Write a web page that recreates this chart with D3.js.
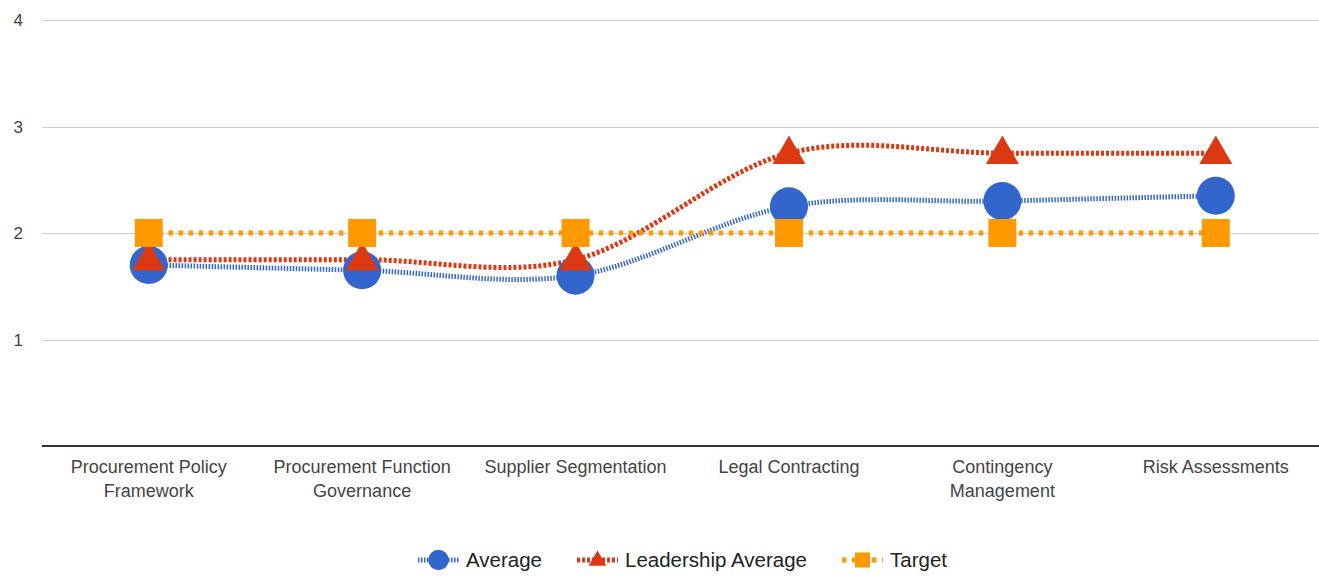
<!DOCTYPE html>
<html>
<head>
<meta charset="utf-8">
<script src="https://d3js.org/d3.v7.min.js"></script>
<style>
    body { margin: 0; background: #fff; }
    svg { display: block; font-family: "Liberation Sans", Arial, sans-serif; }
    .grid line { stroke: #cccccc; stroke-width: 1; }
    .tick-label { fill: #444; font-size: 17px; }
    .cat-label { fill: #444; font-size: 18px; }
    .legend-label { fill: #222; font-size: 20.5px; }
</style>
</head>
<body>
<div id="chart"></div>
<script>
    const categories = ["Procurement Policy Framework", "Procurement Function Governance",
        "Supplier Segmentation", "Legal Contracting", "Contingency Management", "Risk Assessments"];
    const average = [1.7, 1.65, 1.6, 2.25, 2.3, 2.35];
    const leadershipAverage = [1.75, 1.75, 1.75, 2.75, 2.75, 2.75];
    const target = [2, 2, 2, 2, 2, 2];
    const yTicks = [1, 2, 3, 4];

    const series = [
        { name: "Average", values: average, color: "#3366cc", dash: "1.5,1.5", shape: "circle" },
        { name: "Leadership Average", values: leadershipAverage, color: "#dc3912", dash: "3,2", shape: "triangle" },
        { name: "Target", values: target, color: "#ff9900", dash: "4.5,5.5", shape: "square" }
    ];

    const width = 1319, height = 585;
    const svg = d3.select("#chart").append("svg")
        .attr("width", width)
        .attr("height", height);

    const x = d3.scaleBand().domain(categories).range([42, 1322.5]);
    const y = d3.scaleLinear().domain([0, 4]).range([446, 20]);

    // gridlines
    svg.append("g").attr("class", "grid")
        .selectAll("line").data(yTicks).enter().append("line")
        .attr("x1", 42).attr("x2", width)
        .attr("y1", d => Math.round(y(d)) + 0.5).attr("y2", d => Math.round(y(d)) + 0.5);

    svg.append("g").selectAll("text").data(yTicks).enter().append("text")
        .attr("class", "tick-label")
        .attr("x", 23).attr("y", d => y(d) + 6)
        .attr("text-anchor", "end")
        .text(d => d);

    // baseline
    svg.append("line")
        .attr("x1", 42).attr("x2", width)
        .attr("y1", y(0)).attr("y2", y(0))
        .attr("stroke", "#333").attr("stroke-width", 2);

    // category labels, wrapped
    const cx = c => x(c) + x.bandwidth() / 2;
    const catText = svg.append("g").selectAll("text").data(categories).enter().append("text")
        .attr("class", "cat-label")
        .attr("text-anchor", "middle")
        .attr("x", d => cx(d))
        .attr("y", 473);

    catText.each(function (d) {
        const t = d3.select(this);
        const words = d.split(" ");
        let line = [];
        let lineNo = 0;
        let tspan = t.append("tspan").attr("x", cx(d)).attr("dy", 0);
        words.forEach(w => {
            line.push(w);
            tspan.text(line.join(" "));
            if (tspan.node().getComputedTextLength() > 195 && line.length > 1) {
                line.pop();
                tspan.text(line.join(" "));
                line = [w];
                lineNo++;
                tspan = t.append("tspan").attr("x", cx(d)).attr("dy", 24).text(w);
            }
        });
    });

    const lineGen = d3.line()
        .x((d, i) => cx(categories[i]))
        .y(d => y(d))
        .curve(d3.curveCardinal.tension(0));

    // lines
    svg.append("g").selectAll("path").data(series).enter().append("path")
        .attr("d", s => lineGen(s.values))
        .attr("fill", "none")
        .attr("stroke", s => s.color)
        .attr("stroke-width", 5)
        .attr("stroke-dasharray", s => s.dash);

    function drawMarker(g, shape, color, px, py, size) {
        if (shape === "circle") {
            g.append("circle").attr("cx", px).attr("cy", py).attr("r", size * 0.68).attr("fill", color);
        } else if (shape === "triangle") {
            const w = size * 1.18, h = size * 1.02;
            g.append("path")
                .attr("d", `M${px},${py - h * 0.62}L${px + w / 2},${py + h * 0.38}L${px - w / 2},${py + h * 0.38}Z`)
                .attr("fill", color);
        } else {
            g.append("rect").attr("x", px - size / 2).attr("y", py - size / 2)
                .attr("width", size).attr("height", size).attr("fill", color);
        }
    }

    // markers
    series.forEach(s => {
        const g = svg.append("g");
        s.values.forEach((v, i) => drawMarker(g, s.shape, s.color, cx(categories[i]), y(v), 28));
    });

    // legend
    const legend = svg.append("g");
    let lx = 0;
    const items = series.map(s => {
        const item = legend.append("g").attr("transform", `translate(${lx},0)`);
        item.append("line")
            .attr("x1", 0).attr("x2", 41).attr("y1", 560).attr("y2", 560)
            .attr("stroke", s.color).attr("stroke-width", 5)
            .attr("stroke-dasharray", s.dash);
        drawMarker(item, s.shape, s.color, 20.5, 560, 15);
        const txt = item.append("text").attr("class", "legend-label")
            .attr("x", 48).attr("y", 567).text(s.name);
        const w = 48 + txt.node().getComputedTextLength();
        lx += w + 35;
        return w;
    });
    const total = lx - 35;
    legend.attr("transform", `translate(${682.5 - total / 2},0)`);
</script>
</body>
</html>
